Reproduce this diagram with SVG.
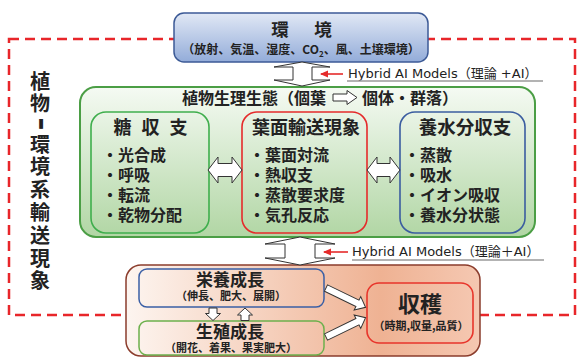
<svg xmlns="http://www.w3.org/2000/svg" width="579" height="358" viewBox="0 0 579 358">
<defs>
  <linearGradient id="gEnv" x1="0" y1="0" x2="0" y2="1">
    <stop offset="0" stop-color="#e1e8f5"/>
    <stop offset="1" stop-color="#93acd9"/>
  </linearGradient>
  <linearGradient id="gGreen" x1="0" y1="0" x2="0" y2="1">
    <stop offset="0" stop-color="#f5faf3"/>
    <stop offset="1" stop-color="#b1d6a4"/>
  </linearGradient>
  <linearGradient id="gBrown" x1="0" y1="0" x2="1" y2="0">
    <stop offset="0" stop-color="#fdf5f0"/>
    <stop offset="0.72" stop-color="#efb293"/>
    <stop offset="1" stop-color="#f5c8b2"/>
  </linearGradient>
  <marker id="redHead" viewBox="0 0 8 8" refX="7" refY="4" markerWidth="8" markerHeight="8" markerUnits="userSpaceOnUse" orient="auto">
    <path d="M0,0.5 L8,4 L0,7.5 Z" fill="#e52b2b"/>
  </marker>
</defs>
<style>
  .jp { font-family: "Noto Sans CJK JP", "Noto Sans", sans-serif; font-weight: 700; fill: #222; }
  .hy { font-family: "DejaVu Sans", "Noto Sans CJK JP", sans-serif; font-size: 13px; fill: #222; }
  .mid { text-anchor: middle; }
  .item { font-size: 16px; }
  .sub { font-size: 11px; }
  .hollow { fill: #fff; stroke: #333; stroke-width: 1; stroke-linejoin: miter; }
  .redline { stroke: #e52b2b; stroke-width: 1.6; fill: none; }
  .uline { stroke: #9a9a9a; stroke-width: 1.5; }
  .side { writing-mode: vertical-rl; font-size: 20px; letter-spacing: 2.8px; }
</style>

<!-- red dashed system boundary -->
<rect id="boundary" x="9" y="39" width="566" height="276" fill="none" stroke="#e8262a" stroke-width="2.5" stroke-dasharray="10 6"/>

<!-- side title: 植物-環境系輸送現象 -->
<g id="side-title">
  <text class="jp side" x="40" y="71">植物</text>
  <text class="jp mid" x="0" y="9.5" font-size="36" transform="translate(40,124) rotate(90)">-</text>
  <text class="jp side" x="40" y="134">環境系輸送現象</text>
</g>

<!-- environment -->
<g id="environment">
  <rect x="174" y="13" width="254" height="49" rx="10" fill="url(#gEnv)" stroke="#3c5a96" stroke-width="1.5"/>
  <text class="jp mid" x="303.5" y="36" font-size="17.5" letter-spacing="4">環　境</text>
  <text class="jp mid" x="301" y="54" font-size="12">（放射、気温、湿度、CO<tspan font-size="8" dy="3">2</tspan><tspan dy="-3">、風、土壌環境）</tspan></text>
</g>

<!-- plant physiology/ecology -->
<g id="plant-ecophysiology">
  <rect x="80" y="87" width="455" height="150" rx="16" fill="url(#gGreen)" stroke="#4b9e45" stroke-width="2"/>
  <text class="jp" x="182" y="104" font-size="16">植物生理生態（個葉</text>
  <path class="hollow" d="M333,94 L347,94 L347,90.5 L357,97.5 L347,104.5 L347,101 L333,101 Z"/>
  <text class="jp" x="362" y="104" font-size="16">個体・群落）</text>
</g>

<g id="sugar-balance">
  <rect x="91" y="112" width="118" height="121" rx="15" fill="none" stroke="#3fae4d" stroke-width="1.6"/>
  <text class="jp mid" x="152" y="134" font-size="18" letter-spacing="3">糖 収 支</text>
  <text class="jp item" x="102" y="161">・光合成</text>
  <text class="jp item" x="102" y="181">・呼吸</text>
  <text class="jp item" x="102" y="201">・転流</text>
  <text class="jp item" x="102" y="221">・乾物分配</text>
</g>

<g id="leaf-transport">
  <rect x="242" y="112" width="125" height="121" rx="15" fill="none" stroke="#e52b2b" stroke-width="1.6"/>
  <text class="jp mid" x="306" y="134" font-size="18">葉面輸送現象</text>
  <text class="jp item" x="249" y="161">・葉面対流</text>
  <text class="jp item" x="249" y="181">・熱収支</text>
  <text class="jp item" x="249" y="201">・蒸散要求度</text>
  <text class="jp item" x="249" y="221">・気孔反応</text>
</g>

<g id="water-nutrient">
  <rect x="400" y="112" width="125" height="121" rx="15" fill="none" stroke="#3b5da0" stroke-width="1.6"/>
  <text class="jp mid" x="465" y="134" font-size="18.5">養水分収支</text>
  <text class="jp item" x="404" y="161">・蒸散</text>
  <text class="jp item" x="404" y="181">・吸水</text>
  <text class="jp item" x="404" y="201">・イオン吸収</text>
  <text class="jp item" x="404" y="221">・養水分状態</text>
</g>

<!-- growth / harvest -->
<g id="growth-panel">
  <rect x="126" y="265" width="354" height="91" rx="15" fill="url(#gBrown)" stroke="#8b3c2c" stroke-width="1.5"/>
</g>
<g id="vegetative-growth">
  <rect x="139" y="269" width="185" height="38" rx="8" fill="none" stroke="#3a5fa5" stroke-width="1.5"/>
  <text class="jp mid" x="230" y="286" font-size="17">栄養成長</text>
  <text class="jp mid sub" x="231" y="300">（伸長、肥大、展開）</text>
</g>
<g id="reproductive-growth">
  <rect x="139" y="321" width="185" height="34" rx="8" fill="none" stroke="#6cb04c" stroke-width="1.5"/>
  <text class="jp mid" x="230" y="338" font-size="17">生殖成長</text>
  <text class="jp mid sub" x="231" y="352">（開花、着果、果実肥大）</text>
</g>
<g id="harvest">
  <rect x="367" y="283" width="106" height="60" rx="12" fill="none" stroke="#e8352b" stroke-width="1.6"/>
  <text class="jp mid" x="420" y="312" font-size="22">収穫</text>
  <text class="jp mid sub" x="421" y="330">（時期,収量,品質）</text>
</g>

<!-- Hybrid AI labels -->
<g id="hybrid-ai-top">
  <text class="hy" x="348" y="78">Hybrid AI Models（理論 +AI）</text>
  <line class="uline" x1="347" y1="81" x2="543" y2="81"/>
</g>
<g id="hybrid-ai-bottom">
  <text class="hy" x="352" y="256">Hybrid AI Models（理論＋AI）</text>
  <line class="uline" x1="352" y1="260" x2="544" y2="260"/>
</g>

<!-- connectors -->
<g id="connectors">
  <path class="hollow" d="M302,62 L330,67 L312,67 L312,80 L330,80 L302,86 L274,80 L293,80 L293,67 L274,67 Z"/>
  <line class="redline" x1="343" y1="74" x2="321" y2="74" marker-end="url(#redHead)"/>
  <path class="hollow" d="M300,237 L335,244 L315,244 L315,258 L335,258 L300,265 L265,258 L285,258 L285,244 L265,244 Z"/>
  <line class="redline" x1="348" y1="252" x2="324" y2="252" marker-end="url(#redHead)"/>
  <path class="hollow" d="M208,170 L218,157 L218,163.5 L232,163.5 L232,157 L242,170 L232,183 L232,176.5 L218,176.5 L218,183 Z"/>
  <path class="hollow" d="M367,170 L377,157 L377,163.5 L390,163.5 L390,157 L400,170 L390,183 L390,176.5 L377,176.5 L377,183 Z"/>
  <path class="hollow" d="M209,308 L217,308 L217,313.5 L220.5,313.5 L213,320.5 L205.5,313.5 L209,313.5 Z"/>
  <path class="hollow" d="M241,320.5 L249,320.5 L249,315 L252.5,315 L245,308 L237.5,315 L241,315 Z"/>
  <path class="hollow" transform="translate(326,288) rotate(26)" d="M0,-3.5 L35,-3.5 L35,-7.5 L44,0 L35,7.5 L35,3.5 L0,3.5 Z"/>
  <path class="hollow" transform="translate(326,337) rotate(-26)" d="M0,-3.5 L35,-3.5 L35,-7.5 L44,0 L35,7.5 L35,3.5 L0,3.5 Z"/>
</g>
</svg>
